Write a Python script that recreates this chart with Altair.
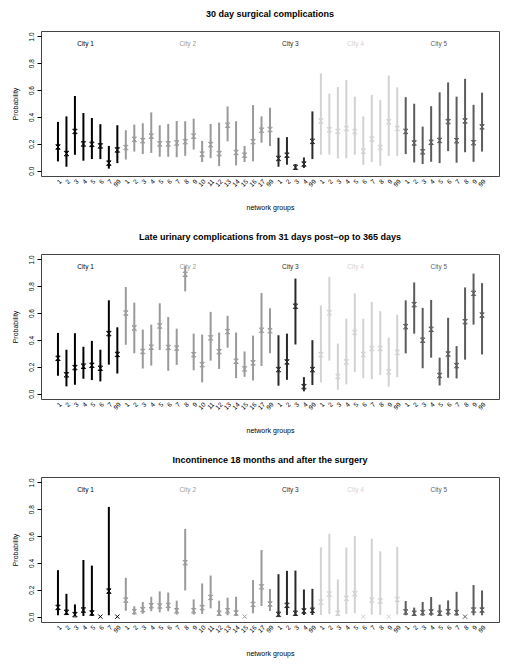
import json
import altair as alt
import pandas as pd

# ---------------- data ----------------
cities = ["City 1", "City 2", "City 3", "City 4", "City 5"]
city_colors = ["#000000", "#9a9a9a", "#2a2a2a", "#d2d2d2", "#5c5c5c"]

groups_c1 = ["1", "2", "3", "4", "5", "6", "7", "99"]
groups_c2 = ["1", "2", "3", "4", "5", "6", "7", "8", "9", "10", "11", "12", "13", "14", "15", "16", "17", "99"]
groups_c3 = ["1", "2", "3", "4", "99"]
groups_c4 = ["1", "2", "3", "4", "5", "6", "7", "8", "9", "99"]
groups_c5 = ["1", "2", "3", "4", "5", "6", "7", "8", "9", "99"]

city_label_x = [4.25, 16.3, 28.4, 36.1, 45.9]
city_label_y = [0.94, 0.94, 0.94, 0.94, 0.94]

titles = [
    "30 day surgical complications",
    "Late urinary complications from 31 days post\u2212op to 365 days",
    "Incontinence 18 months and after the surgery",
]

# panel 1
p1_pt = [0.176, 0.127, 0.292, 0.199, 0.196, 0.184, 0.056, 0.154,
         0.172, 0.233, 0.223, 0.257, 0.199, 0.199, 0.206, 0.216, 0.257, 0.123, 0.194, 0.127, 0.338, 0.135, 0.115, 0.216, 0.301, 0.306,
         0.091, 0.115, 0.025, 0.049, 0.218,
         0.370, 0.304, 0.292, 0.314, 0.292, 0.145, 0.235, 0.172, 0.363, 0.314,
         0.292, 0.206, 0.140, 0.211, 0.225, 0.365, 0.223, 0.370, 0.208, 0.326]
p1_lo = [0.069, 0.029, 0.118, 0.074, 0.086, 0.086, 0.015, 0.056,
         0.083, 0.142, 0.123, 0.132, 0.103, 0.103, 0.100, 0.110, 0.157, 0.064, 0.093, 0.034, 0.218, 0.039, 0.064, 0.069, 0.208, 0.184,
         0.029, 0.044, 0.005, 0.020, 0.086,
         0.118, 0.118, 0.091, 0.091, 0.118, 0.042, 0.064, 0.037, 0.110, 0.108,
         0.123, 0.061, 0.049, 0.066, 0.056, 0.145, 0.059, 0.137, 0.066, 0.142]
p1_hi = [0.363, 0.404, 0.556, 0.429, 0.392, 0.346, 0.184, 0.338,
         0.301, 0.343, 0.353, 0.434, 0.338, 0.348, 0.370, 0.368, 0.387, 0.221, 0.348, 0.358, 0.478, 0.368, 0.184, 0.488, 0.404, 0.468,
         0.245, 0.250, 0.049, 0.098, 0.441,
         0.723, 0.574, 0.623, 0.676, 0.551, 0.404, 0.564, 0.527, 0.708, 0.620,
         0.547, 0.498, 0.328, 0.480, 0.583, 0.657, 0.551, 0.684, 0.490, 0.581]

# panel 2
p2_pt = [0.263, 0.140, 0.194, 0.204, 0.211, 0.189, 0.447, 0.292,
         0.600, 0.489, 0.314, 0.346, 0.504, 0.344, 0.339, 0.889, 0.290, 0.216, 0.415, 0.312, 0.462, 0.241, 0.184, 0.229, 0.472, 0.469,
         0.179, 0.236, 0.651, 0.052, 0.179,
         0.290, 0.602, 0.128, 0.236, 0.455, 0.292, 0.337, 0.337, 0.162, 0.307,
         0.499, 0.663, 0.398, 0.479, 0.135, 0.295, 0.209, 0.536, 0.747, 0.585]
p2_lo = [0.133, 0.054, 0.066, 0.111, 0.101, 0.091, 0.216, 0.150,
         0.364, 0.300, 0.187, 0.209, 0.324, 0.170, 0.214, 0.762, 0.174, 0.084, 0.246, 0.184, 0.342, 0.115, 0.125, 0.098, 0.206, 0.300,
         0.059, 0.103, 0.366, 0.017, 0.064,
         0.084, 0.246, 0.029, 0.069, 0.160, 0.115, 0.108, 0.138, 0.052, 0.123,
         0.300, 0.447, 0.189, 0.268, 0.061, 0.118, 0.113, 0.253, 0.514, 0.292]
p2_hi = [0.452, 0.327, 0.450, 0.349, 0.393, 0.327, 0.695, 0.494,
         0.794, 0.678, 0.477, 0.514, 0.673, 0.570, 0.484, 0.950, 0.447, 0.440, 0.609, 0.455, 0.580, 0.455, 0.314, 0.432, 0.749, 0.636,
         0.435, 0.447, 0.857, 0.123, 0.398,
         0.656, 0.870, 0.373, 0.558, 0.747, 0.558, 0.683, 0.614, 0.418, 0.587,
         0.695, 0.828, 0.639, 0.698, 0.268, 0.565, 0.354, 0.791, 0.894, 0.823]

# panel 3 (None = no interval drawn)
p3_pt = [0.069, 0.032, 0.015, 0.049, 0.027, 0.0, 0.190, 0.0,
         0.123, 0.037, 0.052, 0.081, 0.079, 0.084, 0.044, 0.402, 0.044, 0.067, 0.143, 0.025, 0.044, 0.027, 0.0, 0.091, 0.222, 0.094,
         0.017, 0.084, 0.025, 0.042, 0.047,
         0.109, 0.168, 0.025, 0.136, 0.170, 0.0, 0.123, 0.116, 0.0, 0.128,
         0.035, 0.025, 0.030, 0.035, 0.025, 0.037, 0.030, 0.0, 0.049, 0.049]
p3_lo = [0.010, 0.012, 0.005, 0.005, 0.005, None, 0.010, None,
         0.044, 0.015, 0.022, 0.040, 0.032, 0.040, 0.015, 0.195, 0.015, 0.020, 0.062, 0.005, 0.010, 0.005, None, 0.025, 0.079, 0.042,
         0.005, 0.012, 0.005, 0.012, 0.012,
         0.012, 0.020, 0.005, 0.020, 0.025, None, 0.015, 0.012, None, 0.015,
         0.010, 0.007, 0.007, 0.007, 0.007, 0.007, 0.007, None, 0.010, 0.010]
p3_hi = [0.346, 0.170, 0.091, 0.422, 0.380, None, 0.817, None,
         0.289, 0.077, 0.109, 0.148, 0.188, 0.180, 0.119, 0.654, 0.128, 0.247, 0.306, 0.119, 0.141, 0.148, None, 0.272, 0.496, 0.205,
         0.316, 0.341, 0.343, 0.202, 0.207,
         0.516, 0.617, 0.277, 0.514, 0.600, None, 0.580, 0.486, None, 0.519,
         0.116, 0.067, 0.109, 0.146, 0.089, 0.121, 0.185, None, 0.235, 0.195]

# ---------------- build ----------------
all_groups = [groups_c1, groups_c2, groups_c3, groups_c4, groups_c5]
group_labels = []
city_of = []
for c, g in zip(cities, all_groups):
    group_labels += g
    city_of += [c] * len(g)
idx = list(range(1, len(group_labels) + 1))

FONT = "Liberation Sans"
HOURGLASS = "M-1,-1L1,-1L-1,1L1,1Z"
XSHAPE = "M-1,-1L1,1M-1,1L1,-1"

color = alt.Color("city:N", scale=alt.Scale(domain=cities, range=city_colors), legend=None)
xscale = alt.Scale(domain=[-1, 53], nice=False, zero=False)
yscale = alt.Scale(domain=[-0.04, 1.04], nice=False, zero=False)

label_expr = json.dumps(group_labels) + "[datum.value - 1]"

xaxis = alt.Axis(values=idx, labelExpr=label_expr, labelAngle=-45, labelFontSize=6.5,
                 labelFont=FONT, labelColor="#000", ticks=False, domain=False, grid=False,
                 labelPadding=2, labelOverlap=False, labelFlush=False, labelBound=False,
                 title="network groups", titleFont=FONT, titleFontSize=7,
                 titleFontWeight="normal", titlePadding=16, titleColor="#000")
yaxis = alt.Axis(values=[0, 0.2, 0.4, 0.6, 0.8, 1.0], format=".1f", labelAngle=-90,
                 labelFontSize=6.5, labelFont=FONT, labelColor="#000", tickSize=4,
                 tickColor="#000", domain=False, grid=False, labelPadding=3,
                 labelOverlap=False, labelFlush=False, labelBound=False,
                 title="Probability", titleFont=FONT, titleFontSize=7,
                 titleFontWeight="normal", titlePadding=10, titleColor="#000")

label_df = pd.DataFrame({"city": cities, "lx": city_label_x, "ly": city_label_y})


def panel(title, pts, lo, hi):
    df = pd.DataFrame({"idx": idx, "city": city_of, "group": group_labels,
                       "pt": pts, "lo": lo, "hi": hi})
    base = alt.Chart(df)
    X = alt.X("idx:Q", scale=xscale, axis=xaxis)
    rules = base.transform_filter("isValid(datum.lo)").mark_rule(strokeWidth=2).encode(
        x=X,
        y=alt.Y("lo:Q", scale=yscale, axis=yaxis),
        y2="hi:Q",
        color=color,
    )
    marks = base.transform_filter("isValid(datum.lo)").mark_point(
        shape=HOURGLASS, size=20, filled=False, strokeWidth=1, opacity=1
    ).encode(x=X, y=alt.Y("pt:Q", scale=yscale, axis=yaxis), color=color)
    xs = base.transform_filter("!isValid(datum.lo)").mark_point(
        shape=XSHAPE, size=18, filled=False, strokeWidth=1, opacity=1
    ).encode(x=X, y=alt.Y("pt:Q", scale=yscale, axis=yaxis), color=color)
    labels = alt.Chart(label_df).mark_text(fontSize=6.5, font=FONT).encode(
        x=alt.X("lx:Q", scale=xscale, axis=xaxis),
        y=alt.Y("ly:Q", scale=yscale, axis=yaxis),
        text="city:N", color=color
    )
    return alt.layer(rules, marks, xs, labels).properties(
        width=458, height=145,
        title=alt.Title(title, font=FONT, fontSize=9, fontWeight="bold", anchor="middle",
                        frame="group", offset=12, color="#000"),
    )


chart = alt.vconcat(
    panel(titles[0], p1_pt, p1_lo, p1_hi),
    panel(titles[1], p2_pt, p2_lo, p2_hi),
    panel(titles[2], p3_pt, p3_lo, p3_hi),
    spacing=20,
).properties(
    padding={"left": 2, "top": 1, "right": 0, "bottom": 0},
    background="white",
).configure_view(stroke="#444", strokeWidth=1).configure_axis(labelOverlap=False)

chart.save("out.html", embed_options={"renderer": "svg", "actions": False})
